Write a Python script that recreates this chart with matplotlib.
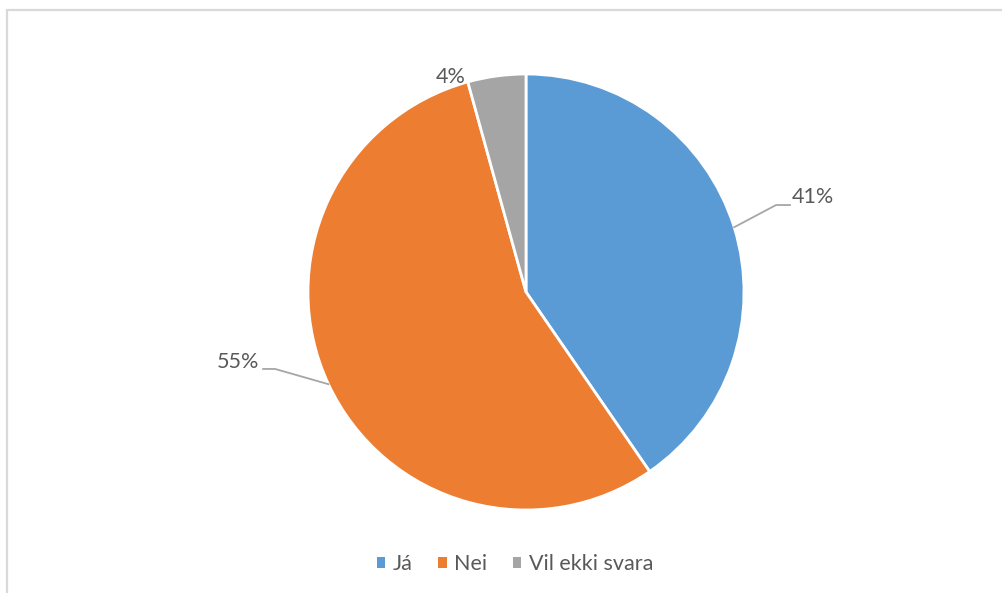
import numpy as np
import matplotlib.pyplot as plt
from matplotlib.patches import Patch, Rectangle

# Gögn
flokkar = ['Já', 'Nei', 'Vil ekki svara']
hlutfall = [40.4, 55.3, 4.3]
litir = ['#5B9BD5', '#ED7D31', '#A5A5A5']
merki = ['41%', '55%', '4%']

plt.rcParams['font.family'] = ['Lato', 'DejaVu Sans']
textalitur = '#595959'
fs = 15.5

W, H = 1002, 593
fig = plt.figure(figsize=(W / 100, H / 100), dpi=100)

# ramminn utan um myndina
fig.patches.append(Rectangle((7 / W, -0.1), 1.5, (H - 10) / H + 0.1,
                             transform=fig.transFigure, fill=False,
                             edgecolor='#D9D9D9', linewidth=1.6))

# ás sem setur miðju kökunnar á (526, 292) og radíus 218 px
cx, cy, r = 526, 292, 218
ax = fig.add_axes([(cx - r) / W, (H - cy - r) / H, 2 * r / W, 2 * r / H])
sneidar, _ = ax.pie(hlutfall, colors=litir, startangle=90, counterclock=False,
                    wedgeprops=dict(edgecolor='white', linewidth=2))
ax.set_xlim(-1, 1)
ax.set_ylim(-1, 1)

# miðhorn hverrar sneiðar
mid = [np.deg2rad((s.theta1 + s.theta2) / 2) for s in sneidar]

# 41% - leiðarlína til hægri
a = mid[0]
ax.plot([np.cos(a), 1.147, 1.211], [np.sin(a), 0.399, 0.399],
        color='#A6A6A6', lw=1.3, clip_on=False)
ax.text(1.22, 0.435, merki[0], ha='left', va='center', fontsize=fs, color=textalitur)

# 55% - leiðarlína til vinstri
a = mid[1]
ax.plot([np.cos(a), -1.151, -1.206], [np.sin(a), -0.353, -0.353],
        color='#A6A6A6', lw=1.3, clip_on=False)
ax.text(-1.225, -0.32, merki[1], ha='right', va='center', fontsize=fs, color=textalitur)

# 4% - engin lína
ax.text(-0.344, 0.988, merki[2], ha='center', va='center', fontsize=fs, color=textalitur)

# skýringar
handles = [Patch(facecolor=c, edgecolor='none') for c in litir]
leg = fig.legend(handles, flokkar, loc='center', bbox_to_anchor=(515 / W, 1 - 564 / H),
                 ncol=3, frameon=False, fontsize=fs, handlelength=0.38, handleheight=0.38,
                 handletextpad=0.35, columnspacing=1.2)
for t in leg.get_texts():
    t.set_color(textalitur)

fig.savefig('out.png', dpi=100)
